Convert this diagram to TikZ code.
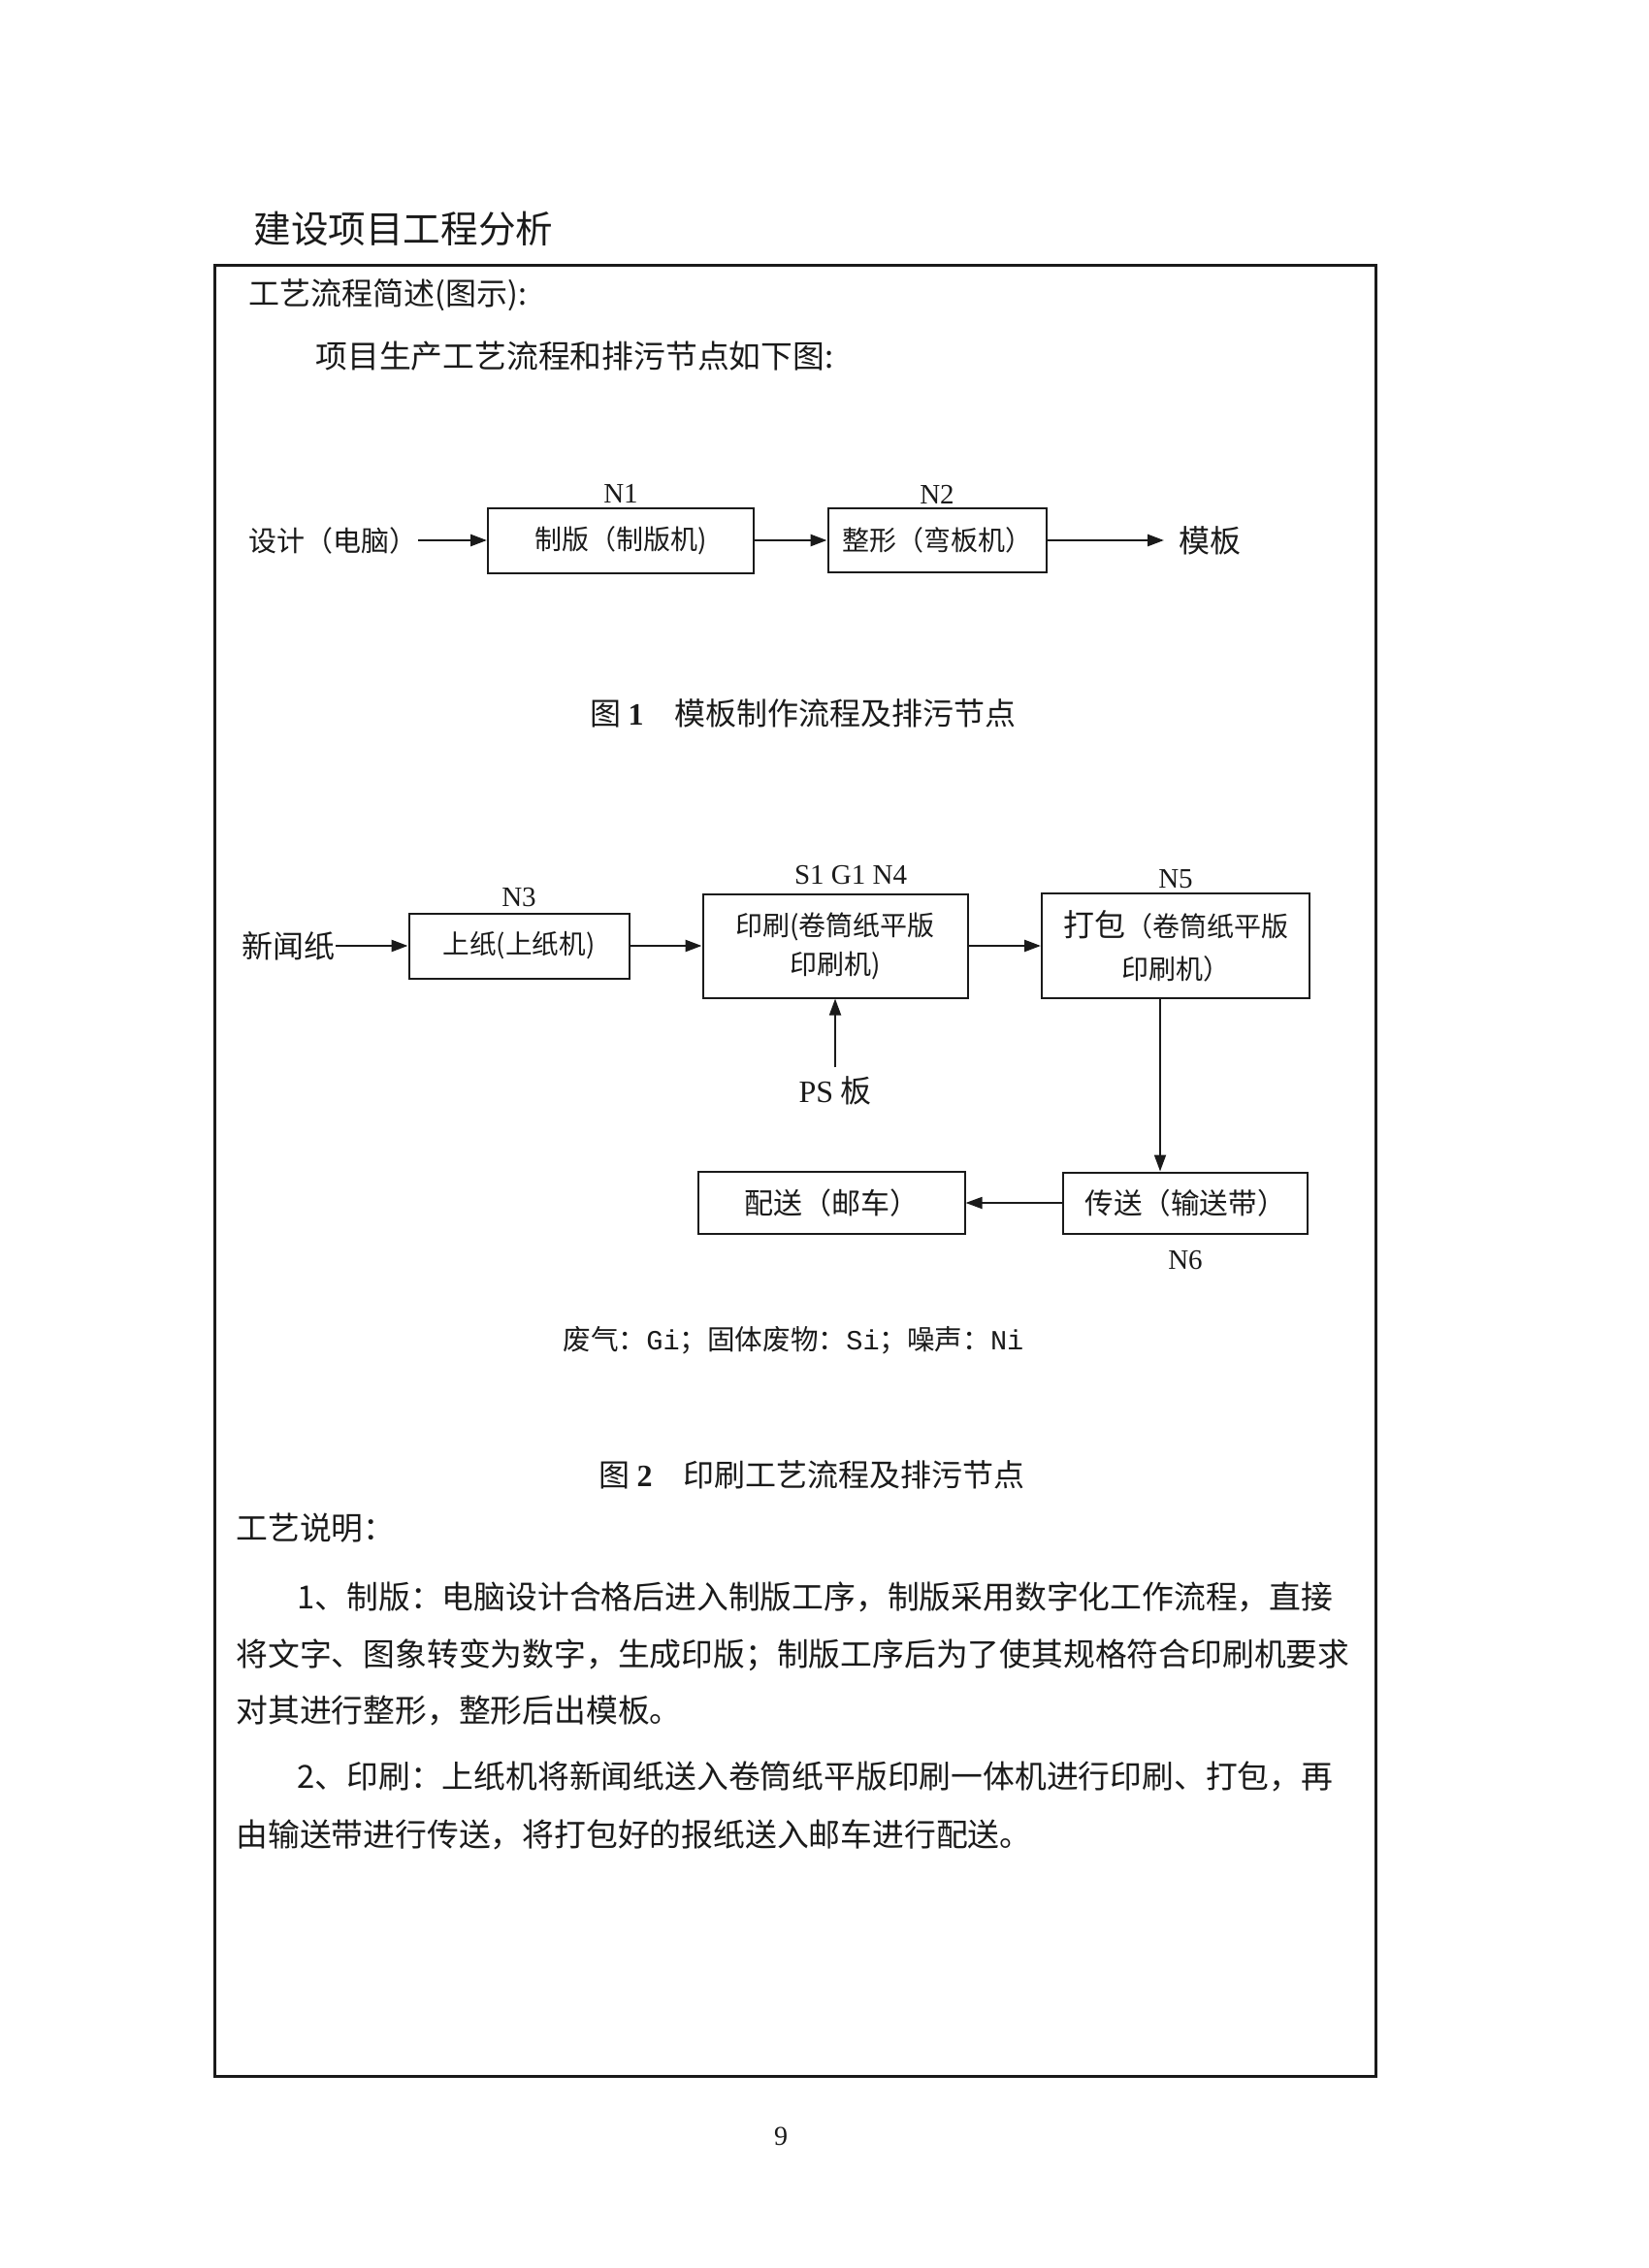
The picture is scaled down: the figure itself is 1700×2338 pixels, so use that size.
\documentclass[tikz,border=0pt]{standalone}
\usepackage{fontspec}
\setmainfont{Liberation Serif}
\setmonofont{Liberation Mono}
\newfontfamily\cjk{Noto Sans CJK SC}
\usepackage{xcolor,tikz}
\usetikzlibrary{positioning,arrows.meta}
\definecolor{docInk}{HTML}{1A1A1A}

\begin{document}
\begin{tikzpicture}[x=0.5pt, y=-0.5pt,
  procbox/.style={draw=docInk, line width=1pt, inner sep=0pt, align=center,
    text=docInk, font=\cjk\fontsize{14pt}{20pt}\selectfont},
  flowarr/.style={draw=docInk, line width=1.3pt, -{Triangle[length=8.5pt,width=6pt]}},
  nlab/.style={inner sep=0pt, text=docInk, font=\fontsize{14.5pt}{16pt}\selectfont},
  cntext/.style={inner sep=0pt, anchor=west, text=docInk,
    font=\cjk\fontsize{16.4pt}{20pt}\selectfont},
  figcap/.style={inner sep=0pt, text=docInk, font=\cjk\fontsize{16pt}{18pt}\selectfont}]

\useasboundingbox (0,0) rectangle (1700,2338);

% --- PAGE HEAD + FRAME ---
\node[cntext, font=\cjk\fontsize{19.3pt}{22pt}\selectfont] (head) at (261,236) {建设项目工程分析};
\draw[docInk, line width=1.5pt] (221,274) rectangle (1418,2140);
\node[cntext, font=\cjk\fontsize{16pt}{20pt}\selectfont] (intro1) at (256,304) {工艺流程简述(图示):};
\node[cntext] (intro2) at (325,367) {项目生产工艺流程和排污节点如下图:};

% --- FIGURE 1: template making ---
\node[procbox, font=\cjk\fontsize{14.5pt}{18pt}\selectfont, draw=none] (design) at (343,557) {设计（电脑）};
\node[procbox, minimum width=137pt, minimum height=33.5pt] (plate) at (640,557) {制版（制版机)};
\node[procbox, minimum width=112.5pt, minimum height=33pt] (shape) at (966,557) {整形（弯板机）};
\node[procbox, font=\cjk\fontsize{16pt}{18pt}\selectfont, draw=none] (templ) at (1247,557) {模板};

\draw[flowarr] (design) -- (plate);
\draw[flowarr] (plate) -- (shape);
\draw[flowarr, shorten >=7pt] (shape) -- (templ);

\node[figcap] (cap1) at (828,735) {图~{\rmfamily\bfseries 1}\quad 模板制作流程及排污节点};

% --- FIGURE 2: printing ---
\node[procbox, font=\cjk\fontsize{16pt}{18pt}\selectfont, draw=none] (paper) at (297,975) {新闻纸};
\node[procbox, font=\cjk\fontsize{13.8pt}{18pt}\selectfont,
  minimum width=113.5pt, minimum height=33.5pt] (feed) at (535,975) {上纸(上纸机)};
\node[procbox, minimum width=136.5pt, minimum height=53.5pt] (print) at (861,975)
  {印刷(卷筒纸平版\\印刷机)};
\node[procbox, font=\cjk\fontsize{14pt}{22pt}\selectfont,
  minimum width=138pt, minimum height=54pt] (pack) at (1212,975)
  {{\fontsize{16pt}{22pt}\selectfont 打包}（卷筒纸平版\\印刷机）};
\node[procbox, font=\cjk\fontsize{16pt}{18pt}\selectfont, draw=none, inner sep=4pt] (psplate) at (861,1124)
  {{\rmfamily PS} 板};
\node[procbox, font=\cjk\fontsize{14.8pt}{18pt}\selectfont,
  minimum width=126pt, minimum height=31.5pt] (belt) at (1222,1240) {传送（输送带）};
\node[procbox, font=\cjk\fontsize{15pt}{18pt}\selectfont,
  minimum width=137.5pt, minimum height=32pt] (mail) at (857,1240) {配送（邮车）};

\draw[flowarr] (paper) -- (feed);
\draw[flowarr] (feed) -- (print);
\draw[flowarr] (print) -- (pack);
\draw[flowarr, line width=0.9pt] (psplate) -- (print);
\draw[flowarr, line width=0.9pt] ([xshift=-8pt]pack.south) -- ([xshift=-8pt]pack.south |- belt.north);
\draw[flowarr, line width=0.9pt] (belt) -- (mail);

% --- NODE LABELS ---
\foreach \bx/\lab/\gap in {plate/N1/2pt, shape/N2/1.5pt, feed/N3/2.5pt, pack/N5/2pt} {
  \node[nlab, above=\gap of \bx] (lab\lab) {\lab};
}
\node[nlab, above=4pt of print, xshift=8pt] (labN4) {S1 G1 N4};
\node[nlab, below=8pt of belt] (labN6) {N6};

\node[figcap, font=\cjk\fontsize{14.3pt}{18pt}\selectfont] (legend) at (818,1382)
  {废气：{\ttfamily Gi}；固体废物：{\ttfamily Si}；噪声：{\ttfamily Ni}};
\node[figcap] (cap2) at (837,1520) {图~{\rmfamily\bfseries 2}\quad 印刷工艺流程及排污节点};

% --- PROCESS NOTES ---
\node[cntext] (notehead) at (243,1575) {工艺说明：};
\foreach \lx/\ly/\txt [count=\i] in {
  306/1646/{1、制版：电脑设计合格后进入制版工序，制版采用数字化工作流程，直接},
  243/1706/{将文字、图象转变为数字，生成印版；制版工序后为了使其规格符合印刷机要求},
  243/1763/{对其进行整形，整形后出模板。},
  306/1831/{2、印刷：上纸机将新闻纸送入卷筒纸平版印刷一体机进行印刷、打包，再},
  243/1891/{由输送带进行传送，将打包好的报纸送入邮车进行配送。}} {
  \node[cntext] (note\i) at (\lx,\ly) {\txt};
}

% --- PAGE NUMBER ---
\node[nlab, font=\fontsize{14pt}{16pt}\selectfont] (pageno) at (805,2202) {9};

\end{tikzpicture}
\end{document}
